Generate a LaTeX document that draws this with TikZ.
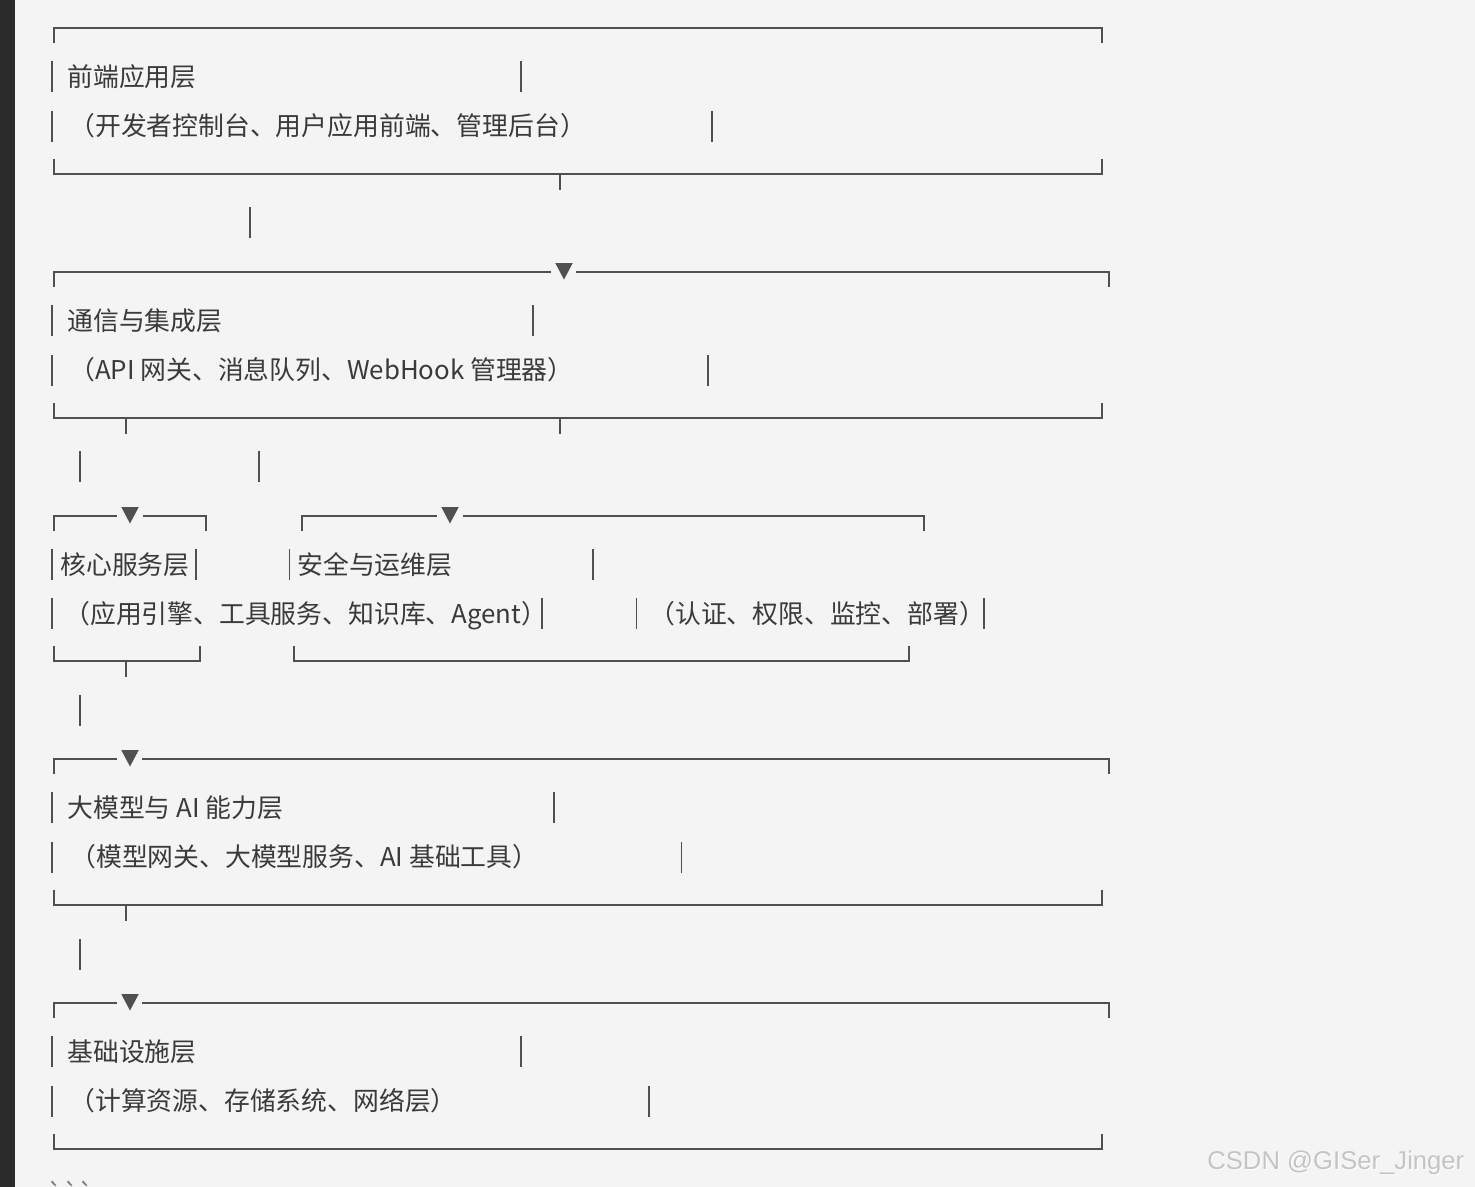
\documentclass[tikz,border=0pt]{standalone}
\usepackage{fontspec}
\setmainfont{Noto Sans CJK SC}
\newfontfamily\markfont{Liberation Sans}
\newfontfamily\fencefont{Noto Sans CJK SC}
\usepackage{tikz}
\usetikzlibrary{positioning}
\usepackage{xcolor}
\definecolor{pagegray}{HTML}{F4F4F4}
\definecolor{sidedark}{HTML}{2B2B2B}
\definecolor{linegray}{HTML}{505050}
\definecolor{inkgray}{HTML}{3A3A3A}
\definecolor{markgray}{HTML}{C4C4C4}
\tikzstyle{frame} = [line width=1.15pt, color=linegray]
\tikzstyle{bar} = [line width=1.1pt, color=linegray]
\tikzstyle{layertext} = [anchor=base west, inner sep=0, text=inkgray, font=\fontsize{14.7}{17}\selectfont]
\newcommand{\downtip}[2]{\fill[linegray] (#1-8.75,#2-9) -- (#1+8.75,#2-9) -- (#1,#2+7.5) -- cycle;}

\begin{document}
\begin{tikzpicture}[x=0.02cm, y=-0.02cm]
    % Page
    \useasboundingbox (0,0) rectangle (1475,1187);
    \fill[pagegray] (0,0) rectangle (1475,1187);
    \fill[sidedark] (0,0) rectangle (15,1187);

    % Full-width frames
    \draw[frame] (54,43) -- (54,28) -- (1102,28) -- (1102,43);
    \foreach \t/\a in {272/564, 759/130, 1003/130} {
        \draw[frame] (54,\t+15) -- (54,\t) -- (\a-13,\t) (\a+12,\t) -- (1109,\t) -- (1109,\t+15);
        \downtip{\a}{\t}
    }
    \foreach \t in {28, 272, 759, 1003}
        \draw[frame] (54,\t+131) -- (54,\t+146) -- (1102,\t+146) -- (1102,\t+131);

    % Split frames
    \draw[frame] (54,531) -- (54,516) -- (117,516) (143,516) -- (206,516) -- (206,531);
    \downtip{130}{516}
    \draw[frame] (302,531) -- (302,516) -- (437,516) (463,516) -- (924,516) -- (924,531);
    \downtip{450}{516}
    \draw[frame] (54,646) -- (54,661) -- (200,661) -- (200,646);
    \draw[frame] (294,646) -- (294,661) -- (909,661) -- (909,646);

    % Ticks under frames
    \foreach \x/\y in {560/174, 126/418, 560/418, 126/661, 126/905}
        \draw[frame] (\x,\y) -- (\x,\y+16);

    % Bars between layers
    \foreach \x/\y in {250/207, 80/451, 259/451, 80/695, 80/939}
        \draw[bar] (\x,\y) -- (\x,\y+31);

    % Side bars
    \foreach \x/\y in {52/61, 521/61, 52/111, 712/111,
                       52/305, 533/305, 52/355, 708/355,
                       52/549, 196/549, 289.5/549, 593/549,
                       52/598, 542/598, 636.5/598, 984/598,
                       52/792, 554/792, 52/842, 681.5/842,
                       52/1036, 521/1036, 52/1086, 649/1086}
        \draw[bar] (\x,\y) -- (\x,\y+31);

    % Layer names
    \node[layertext] (front) at (67,86) {前端应用层};
    \node[layertext] (frontsub) at (69,135) {（开发者控制台、用户应用前端、管理后台）};
    \node[layertext] (comm) at (67,330) {通信与集成层};
    \node[layertext] (commsub) at (69,379) {（API 网关、消息队列、WebHook 管理器）};
    \node[layertext] (core) at (60,574) {核心服务层};
    \node[layertext] (coresub) at (64,623) {（应用引擎、工具服务、知识库、Agent）};
    \node[layertext] (secops) at (297,574) {安全与运维层};
    \node[layertext] (secopssub) at (649,623) {（认证、权限、监控、部署）};
    \node[layertext] (model) at (67,817) {大模型与 AI 能力层};
    \node[layertext] (modelsub) at (70,866) {（模型网关、大模型服务、AI 基础工具）};
    \node[layertext] (infra) at (67,1061) {基础设施层};
    \node[layertext] (infrasub) at (69,1110) {（计算资源、存储系统、网络层）};

    % Watermark
    \node[anchor=base west, inner sep=0, text=white, font=\markfont\fontsize{14.6}{16}\selectfont] (markshade) at (1208,1170.5) {CSDN @GISer\_Jinger};
    \node[anchor=base west, inner sep=0, text=markgray, font=\markfont\fontsize{14.6}{16}\selectfont] (mark) at (1207,1169.5) {CSDN @GISer\_Jinger};
    \node[anchor=base west, inner sep=0, text=gray, font=\fencefont\fontsize{14.7}{17}\selectfont] (fence) at (47,1203) {```};
\end{tikzpicture}
\end{document}
